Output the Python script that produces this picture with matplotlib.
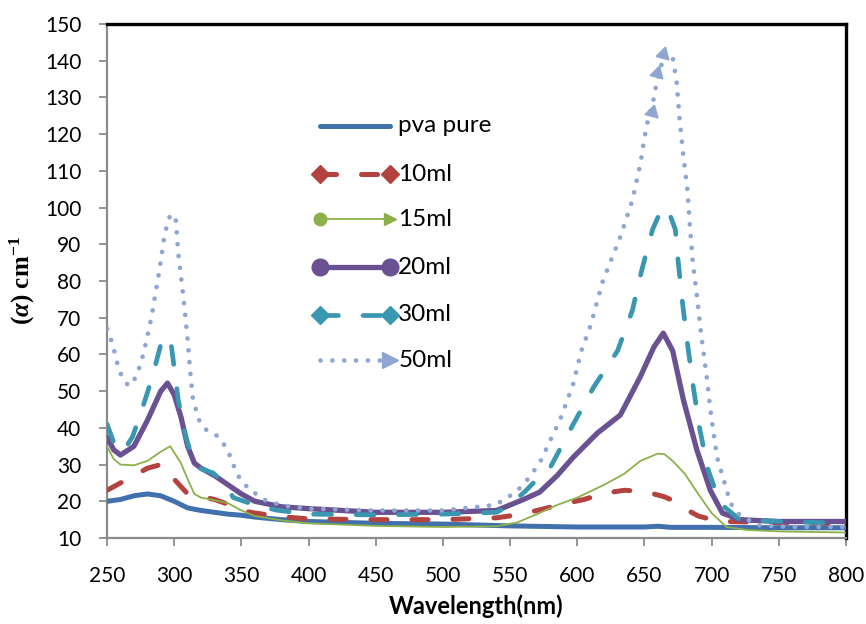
import matplotlib
matplotlib.use("Agg")
import matplotlib.pyplot as plt

# ---- data ----
pva_nm = [250, 260, 270, 280, 290, 300, 310, 320, 330, 340, 350, 360, 380, 400, 420,
          450, 500, 550, 600, 650, 660, 670, 700, 750, 800]
pva_val = [20, 20.5, 21.5, 22, 21.5, 20, 18.2, 17.5, 17, 16.5, 16.2, 15.7, 15, 14.5, 14.3,
           14, 13.8, 13.3, 13, 13, 13.2, 12.9, 12.9, 12.8, 12.8]

ml10_nm = [250, 260, 270, 280, 290, 295, 300, 310, 320, 330, 340, 350, 360, 380, 400, 450,
           500, 540, 555, 570, 590, 605, 620, 635, 645, 655, 665, 670, 680, 690, 700, 710,
           750, 800]
ml10_val = [23, 25, 27, 29, 30, 29, 26, 22, 21.3, 20.5, 19.2, 17.5, 16.8, 15.8, 15.2, 15,
            15, 15.5, 16.3, 17.5, 19.3, 20.5, 22.2, 23, 22.8, 22.2, 21.2, 20.4, 18, 16, 15,
            14.5, 14.2, 14]

ml15_nm = [250, 255, 260, 270, 280, 290, 297, 305, 310, 315, 320, 330, 340, 350, 360, 380,
           400, 450, 500, 540, 555, 570, 585, 600, 620, 635, 647, 660, 665, 671, 680, 690,
           700, 711, 726, 750, 800]
ml15_val = [35, 31.5, 30, 29.8, 31, 33.5, 35, 30.4, 26, 22, 21, 20.3, 19.5, 17.5, 16, 14.8,
            14, 13.3, 13, 13.2, 14.2, 16.5, 19, 21, 24.5, 27.5, 31, 33, 32.8, 31, 27.5, 22,
            16.8, 13, 12.2, 11.8, 11.5]

ml20_nm = [250, 255, 260, 270, 280, 290, 295, 300, 305, 310, 315, 320, 330, 340, 350, 360,
           380, 400, 450, 500, 540, 550, 560, 572, 585, 597, 615, 632, 647, 657, 664, 671,
           679, 689, 699, 708, 721, 750, 800]
ml20_val = [37.5, 34, 32.6, 35, 42, 50, 52.2, 49, 43, 35, 30.4, 29, 27, 24.5, 22, 20,
            18.5, 18, 17, 17, 17.5, 19, 20.5, 22.5, 27, 32, 38.6, 43.5, 54, 62, 65.8, 61,
            47.6, 34, 23, 16.8, 15, 14.5, 14.5]

ml30_nm = [250, 256, 262, 269, 276, 283, 291, 295, 298, 303, 308, 313, 319, 329, 337, 344,
           360, 376, 400, 450, 500, 540, 550, 562, 570, 580, 597, 612, 630, 641, 648, 656,
           662, 667, 673, 675, 678, 682, 686, 691, 697, 706, 721, 750, 800]
ml30_val = [41, 35, 33.5, 37.6, 45, 53, 64, 65, 62, 47.6, 38.6, 32, 29, 27.7, 25, 21,
            19, 17.6, 16.5, 16.3, 16.5, 17, 19, 23, 26, 29.3, 41, 51, 61, 72, 83, 94,
            99, 100, 94, 85.7, 75, 63, 52, 40, 29, 19.5, 15, 14.5, 14]

ml50_nm = [250, 254, 258, 261, 266, 272, 277, 283, 289, 293, 297, 301, 303, 307, 310, 312,
           314, 319, 324, 332, 338, 342, 345, 349, 355, 362, 369, 384, 400, 450, 500, 539,
           548, 555, 561, 572, 580, 587, 597, 603, 610, 619, 632, 641, 647, 650, 653, 656,
           659, 662, 665, 668, 671, 674, 676, 679, 682, 684, 686, 689, 692, 697, 699, 704,
           709, 714, 719, 734, 760, 800]
ml50_val = [67, 63, 57, 54, 51.4, 54, 60, 70, 83, 93, 98, 97.5, 87.6, 75, 64, 55,
            47.6, 41.6, 39.4, 37.8, 35, 32, 29, 26, 23.6, 21.7, 20, 18.7, 18, 17.5, 17.5, 19,
            21, 22.8, 25, 30.4, 36.7, 42, 52, 61, 68, 80, 92, 102, 112, 119, 124.7, 128,
            134, 138, 142, 142, 141, 134, 124.7, 113.8, 104.8, 94, 85, 76, 66, 52, 45, 32,
            25.8, 19.5, 16.8, 13.5, 13, 13]

# stray arrow heads drawn on the 50ml curve near its peak
arrow_nm = [655.6, 659.4, 663.8]
arrow_val = [126, 136.7, 141.8]

labels = ["pva pure", "10ml", "15ml", "20ml", "30ml", "50ml"]

BLUE = "#4170AC"
RED = "#B4423F"
GREEN = "#8CB04A"
PURPLE = "#6A5191"
TEAL = "#3A97B1"
LBLUE = "#8EA7D2"

plt.rcParams["font.family"] = ["Lato", "DejaVu Sans"]
plt.rcParams["mathtext.fontset"] = "custom"
plt.rcParams["mathtext.rm"] = "Liberation Serif:bold"
plt.rcParams["mathtext.bf"] = "Liberation Serif:bold"
plt.rcParams["mathtext.it"] = "Liberation Serif:bold:italic"

fig = plt.figure(figsize=(8.66, 6.24), dpi=100)
ax = fig.add_axes([0.1236, 0.1378, 0.8533, 0.8237])

line_kw = dict(dash_capstyle="round", solid_capstyle="round",
               solid_joinstyle="round", dash_joinstyle="round")
styles = [
    dict(color=BLUE, lw=3.6, ls="-"),
    dict(color=RED, lw=3.6, ls=(0, (3.2, 5.0))),
    dict(color=GREEN, lw=1.3, ls="-"),
    dict(color=PURPLE, lw=3.8, ls="-"),
    dict(color=TEAL, lw=3.4, ls=(0, (3.8, 5.2))),
    dict(color=LBLUE, lw=3.4, ls=(0, (0.01, 2.5))),
]
series = [(pva_nm, pva_val), (ml10_nm, ml10_val), (ml15_nm, ml15_val),
          (ml20_nm, ml20_val), (ml30_nm, ml30_val), (ml50_nm, ml50_val)]

for (xs, ys), st in zip(series, styles):
    ax.plot(xs, ys, **st, **line_kw, zorder=3)

ax.plot(arrow_nm, arrow_val, ls="none", marker=(3, 0, -15), ms=11,
        color=LBLUE, zorder=4)

ax.set_xlim(250, 800)
ax.set_ylim(10, 150)
ax.set_xticks(range(250, 801, 50))
ax.set_yticks(range(10, 151, 10))
ax.tick_params(axis="both", direction="out", length=5.5, width=1.3, color="#8c8c8c",
               labelsize=15)
ax.tick_params(axis="x", pad=15)
ax.tick_params(axis="y", pad=13)

for side in ("left", "bottom"):
    ax.spines[side].set_color("#8c8c8c")
    ax.spines[side].set_linewidth(1.6)
for side in ("top", "right"):
    ax.spines[side].set_color("black")
    ax.spines[side].set_linewidth(2.4)

ax.set_xlabel("Wavelength(nm)", fontsize=17, fontweight="bold", labelpad=6)
ax.set_ylabel(r"$(\mathit{\alpha})\ \mathrm{cm}^{-1}$", fontsize=18, labelpad=6)

# ---- legend drawn by hand, Excel style with end caps ----
leg_y = [0.8016, 0.708, 0.6206, 0.527, 0.434, 0.346]
x0, x1, xt = 0.288, 0.383, 0.394
end_marks = [(None, None), ("D", "D"), ("o", ">"), ("o", "o"), ("D", "D"), (None, ">")]
end_size = [0, 9, 9, 12, 9, 11]
for lab, st, yy, (m0, m1), ms in zip(labels, styles, leg_y, end_marks, end_size):
    ax.plot([x0, x1], [yy, yy], transform=ax.transAxes, clip_on=False,
            **st, **line_kw, zorder=5)
    if m0:
        ax.plot([x0], [yy], transform=ax.transAxes, marker=m0, ms=ms,
                color=st["color"], ls="none", zorder=6)
    if m1:
        ax.plot([x1], [yy], transform=ax.transAxes, marker=m1, ms=ms,
                color=st["color"], ls="none", zorder=6)
    ax.text(xt, yy, lab, transform=ax.transAxes, va="center", ha="left",
            fontsize=17.5, zorder=6)

fig.savefig("out.png", dpi=100)
